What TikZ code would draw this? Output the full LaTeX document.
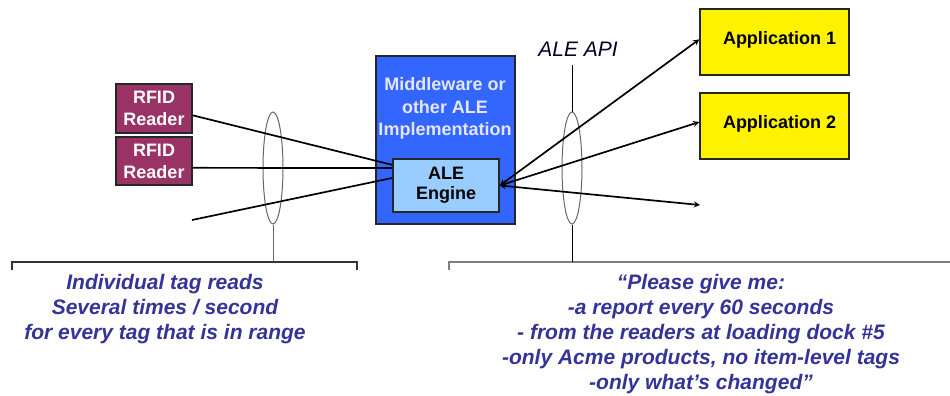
\documentclass[tikz,border=0pt]{standalone}
\usepackage{fontspec}
\setmainfont{Liberation Sans}
\usetikzlibrary{shapes.geometric}
\definecolor{rfidred}{HTML}{993366}
\definecolor{mwblue}{HTML}{3366FF}
\definecolor{engblue}{HTML}{99CCFF}
\definecolor{notetext}{HTML}{333399}
\begin{document}
\begin{tikzpicture}
[x=1pt, y=-1pt, >=stealth, line width=1.7pt,
 box/.style={draw=black!85, line width=1.5pt, inner sep=0, align=center, font=\fontsize{18}{22}\selectfont\bfseries},
 lens/.style={ellipse, draw=black!60, line width=1pt, minimum width=20pt, minimum height=112pt, inner sep=0},
 note/.style={anchor=north, inner sep=0, align=center, text=notetext, font=\fontsize{21}{25}\selectfont\bfseries\itshape}]
\useasboundingbox (0,0) rectangle (950,396);

\node (Reader1) at (154,108.5) [box, fill=rfidred, text=white, minimum width=76pt, minimum height=49pt] {RFID\\Reader};
\node (Reader2) at (154,161) [box, fill=rfidred, text=white, minimum width=76pt, minimum height=48pt] {RFID\\Reader};
\coordinate (Tag) at (192,220);

\node (MW) at (445.5,140) [box, fill=mwblue, minimum width=139pt, minimum height=168pt] {};
\node (MWtext) at (445,77) [anchor=north, inner sep=0, align=center, text=white!90!blue, font=\fontsize{18}{22.5}\selectfont\bfseries] {Middleware or\\other ALE\\Implementation};
\node (Engine) at (446,185.5) [box, fill=engblue, font=\fontsize{18}{20}\selectfont\bfseries, minimum width=106pt, minimum height=53pt] {ALE\\Engine};

\node (App1) at (774.5,42) [box, fill=yellow, text depth=9pt, minimum width=149pt, minimum height=66pt] {\hspace{10pt}Application 1};
\node (App2) at (774.5,126) [box, fill=yellow, text depth=9pt, minimum width=149pt, minimum height=66pt] {\hspace{10pt}Application 2};
\coordinate (Out) at (700,205);

\node (Lens1) at (273,168) [lens] {};
\node (Lens2) at (572,168) [lens] {};
\node (API) at (578,49.5) [font=\fontsize{21}{25}\selectfont\itshape, text=black!85!blue] {ALE API};
\coordinate (APIline) at (572,65);

\draw (Reader1.-10) -- (Engine.159);
\draw (Reader2.-10) -- (Engine.162);
\draw (Tag) -- (Engine.172);
\draw [<->] (Engine.east) -- (App1.178);
\draw [<->] (Engine.east) -- (App2.177);
\draw [<->] (Engine.east) -- (Out);

% brackets under the lenses
\coordinate (BraceL) at (273,262);
\coordinate (BraceR) at (572,262);
\draw [black!80, line width=1.3pt] (12,270) |- (357,262) -- (357,270);
\draw [black!50, line width=1.3pt] (449,270) |- (950,262);
\draw [black!60, line width=1pt] (Lens1.south) -- (BraceL);
\draw [line width=1pt] (APIline) -- (Lens2.north);
\draw [line width=1pt] (Lens2.south) -- (BraceR);

\node (Reads) at (165,273) [note] {Individual tag reads\\Several times / second\\for every tag that is in range};
\node (Request) at (701,273) [note] {“Please give me:\\-a report every 60 seconds\\- from the readers at loading dock \#5\\-only Acme products, no item-level tags\\-only what’s changed”};
\end{tikzpicture}
\end{document}
